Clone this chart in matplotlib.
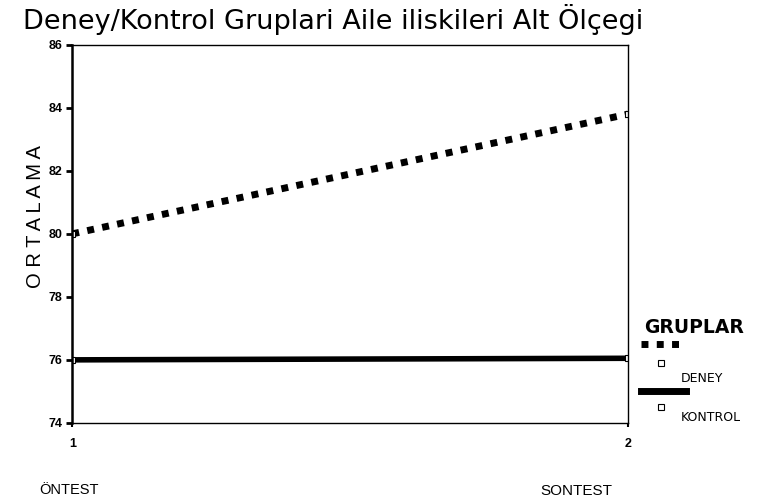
import matplotlib
matplotlib.use('Agg')
import matplotlib.pyplot as plt
from matplotlib.lines import Line2D

plt.rcParams['font.family'] = ['Liberation Sans', 'DejaVu Sans']

# veriler
olcum = [1, 2]
deney = [80.0, 83.8]
kontrol = [76.0, 76.05]
y_ticks = [74, 76, 78, 80, 82, 84, 86]

fig = plt.figure(figsize=(7.61, 5.04), dpi=100)
ax = fig.add_axes([0.095, 0.161, 0.730, 0.750])

# çizgiler
ax.plot(olcum, deney, color='black', linestyle=(0, (1.0, 1.2)), linewidth=5,
        marker='s', markersize=5, markerfacecolor='white', markeredgecolor='black',
        markeredgewidth=0.8, solid_capstyle='butt', dash_capstyle='butt')
ax.plot(olcum, kontrol, color='black', linestyle='-', linewidth=4,
        marker='s', markersize=5, markerfacecolor='white', markeredgecolor='black',
        markeredgewidth=0.8)

ax.set_xlim(1, 2)
ax.set_ylim(74, 86)
ax.set_xticks(olcum)
ax.set_yticks(y_ticks)
ax.set_xticklabels(['1', '2'], fontsize=9, fontweight='bold')
ax.set_yticklabels([str(t) for t in y_ticks], fontsize=9, fontweight='bold')
ax.tick_params(axis='y', direction='out', length=4, width=2, pad=3)
ax.tick_params(axis='x', direction='out', length=3, width=1.5, pad=8)
ax.spines['left'].set_linewidth(1.8)
for s in ['top', 'right', 'bottom']:
    ax.spines[s].set_linewidth(1.0)

# başlık ve eksen yazıları
fig.text(0.030, 0.961, 'Deney/Kontrol Gruplari Aile iliskileri Alt Ölçegi',
         fontsize=19.5, family='DejaVu Sans', va='center', ha='left')
fig.text(0.047, 0.57, 'O R T A L A M A', rotation=90, fontsize=14.5,
         va='center', ha='center')
fig.text(0.052, 0.028, 'ÖNTEST', fontsize=10.5, va='center')
fig.text(0.71, 0.026, 'SONTEST', fontsize=11, va='center')

# lejant
fig.text(0.846, 0.351, 'GRUPLAR', fontsize=13.5, family='DejaVu Sans',
         fontweight='bold', va='center')
fig.add_artist(Line2D([0.842, 0.899], [0.317, 0.317], color='black', linewidth=5,
                      linestyle=(0, (1.0, 1.2)), transform=fig.transFigure))
fig.add_artist(Line2D([0.869], [0.280], marker='s', markersize=5, markerfacecolor='white',
                      markeredgecolor='black', markeredgewidth=0.8, linestyle='none',
                      transform=fig.transFigure))
fig.text(0.894, 0.250, 'DENEY', fontsize=9, family='DejaVu Sans', va='center')
fig.add_artist(Line2D([0.842, 0.901], [0.224, 0.224], color='black', linewidth=5,
                      transform=fig.transFigure))
fig.add_artist(Line2D([0.869], [0.192], marker='s', markersize=5, markerfacecolor='white',
                      markeredgecolor='black', markeredgewidth=0.8, linestyle='none',
                      transform=fig.transFigure))
fig.text(0.894, 0.171, 'KONTROL', fontsize=9, family='DejaVu Sans', va='center')

fig.savefig('out.png', dpi=100)
